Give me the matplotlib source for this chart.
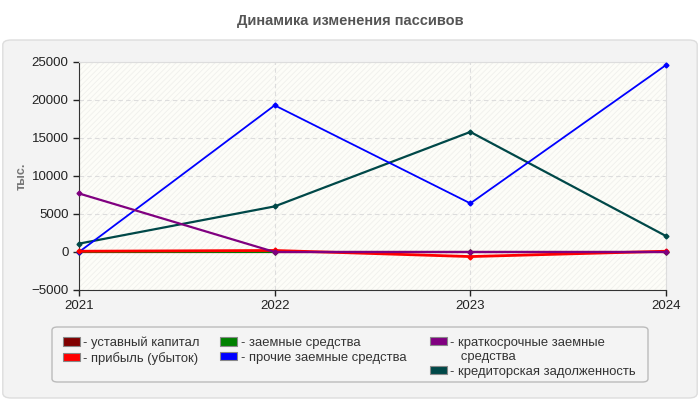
import matplotlib
matplotlib.use("Agg")
import matplotlib.pyplot as plt
from matplotlib.patches import FancyBboxPatch, Patch

plt.rcParams["font.family"] = ["Liberation Sans", "DejaVu Sans"]
plt.rcParams["hatch.linewidth"] = 0.6

years = ["2021", "2022", "2023", "2024"]
series_names = [
    "- уставный капитал",
    "- прибыль (убыток)",
    "- заемные средства",
    "- прочие заемные средства",
    "- краткосрочные заемные\n   средства",
    "- кредиторская задолженность",
]
series_colors = ["#800000", "#ff0000", "#008000", "#0000ff", "#800080", "#004848"]

ustavny = [10, 10, 10, 10]
pribyl = [100, 200, -600, 100]
zaemnye = [0, 0, 0, 0]
prochie = [0, 19300, 6400, 24600]
kratkosroch = [7700, 0, 0, 0]
kreditor = [1100, 6000, 15800, 2100]

all_values = [ustavny, pribyl, zaemnye, prochie, kratkosroch, kreditor]
draw_order = [0, 2, 5, 3, 1, 4]
line_widths = [1.6, 2.0, 1.4, 1.3, 1.6, 1.6]

fig = plt.figure(figsize=(7, 4), dpi=100)
fig.patch.set_facecolor("white")

# outer panel
panel = FancyBboxPatch((0.004, 0.005), 0.992, 0.895,
                       boxstyle="round,pad=0,rounding_size=0.012",
                       transform=fig.transFigure, facecolor="#f3f3f3",
                       edgecolor="#dddddd", linewidth=1, zorder=-5)
fig.patches.append(panel)

fig.text(0.5, 0.948, "Динамика изменения пассивов", ha="center", va="center",
         fontsize=10.5, fontweight="bold", color="#555555")

ax = fig.add_axes([79 / 700, 1 - 290 / 400, (666 - 79) / 700, (290 - 62) / 400])
ax.set_zorder(2)
ax.set_facecolor("#fdfdf8")
ax.add_patch(plt.Rectangle((0, 0), 1, 1, transform=ax.transAxes, facecolor="none",
                           edgecolor="#f0f0ec", hatch="//////", linewidth=0, zorder=0))

x = list(range(len(years)))
for i in draw_order:
    ax.plot(x, all_values[i], color=series_colors[i], linewidth=line_widths[i],
            marker="D", markersize=2.5, zorder=3, clip_on=False)

ax.set_xlim(0, 3)
ax.set_ylim(-5000, 25000)
ax.set_yticks(range(-5000, 25001, 5000))
ax.set_xticks(x)
ax.set_xticklabels(years)
ax.tick_params(labelsize=9.5, colors="#222222", length=4, width=1)
ax.grid(True, color="#dddddd", linestyle=(0, (4, 3)), linewidth=0.8)
for side in ["top", "right"]:
    ax.spines[side].set_color("#dddddd")
for side in ["left", "bottom"]:
    ax.spines[side].set_color("#333333")
ax.set_ylabel("тыс.", fontsize=9, color="#777777", fontweight="bold")
ax.yaxis.set_label_coords(-0.088, 0.5)

# legend frame
frame = FancyBboxPatch((52 / 700, 1 - 382 / 400), 596 / 700, 55 / 400,
                       boxstyle="round,pad=0,rounding_size=0.008",
                       transform=fig.transFigure, facecolor="#f4f4f4",
                       edgecolor="#bbbbbb", linewidth=1, zorder=-1)
fig.patches.append(frame)

handles = [Patch(facecolor=c, edgecolor="#888888", linewidth=0.8) for c in series_colors]
blank = Patch(facecolor="none", edgecolor="none")

# third column: wrapped label, handle only on the first line
first, second = series_names[4].split("\n")
col3_handles = [handles[4], blank, handles[5]]
col3_labels = [first, second, series_names[5]]

leg_opts = dict(loc="upper left", prop={"family": "Liberation Sans", "size": 9.4},
                frameon=False, handlelength=1.3, handleheight=0.6,
                handletextpad=0.3, labelspacing=0.2, borderpad=0.0,
                columnspacing=1.55)
leg1 = fig.legend(handles[:4], series_names[:4], ncol=2,
                  bbox_to_anchor=(56 / 700, 1 - 330 / 400), **leg_opts)
leg2 = fig.legend(col3_handles, col3_labels, ncol=1,
                  bbox_to_anchor=(423 / 700, 1 - 330 / 400), **leg_opts)
for leg in (leg1, leg2):
    for t in leg.get_texts():
        t.set_color("#333333")

fig.savefig("out.png", dpi=100)
